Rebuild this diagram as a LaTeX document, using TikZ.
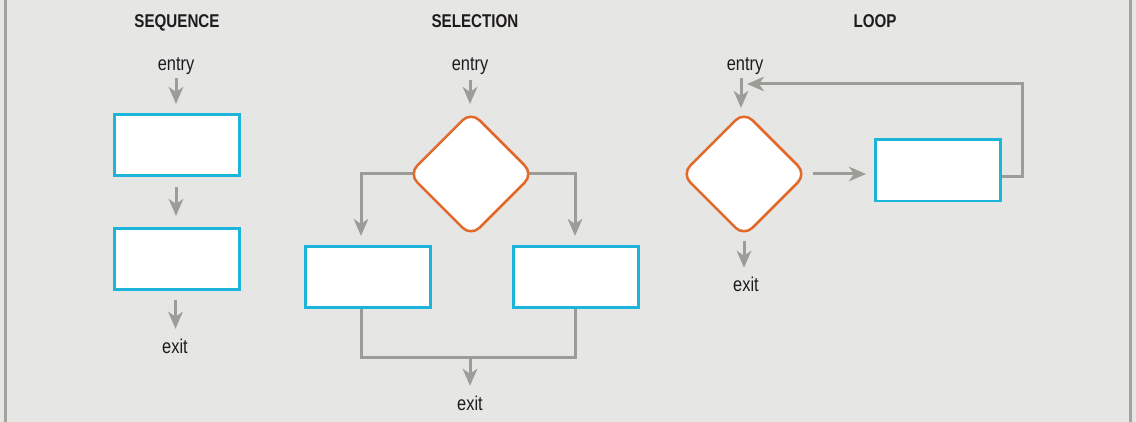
\documentclass[tikz,border=0pt]{standalone}
\usepackage{fontspec}
\setmainfont{Liberation Sans}[FakeStretch=0.82]
\usetikzlibrary{arrows.meta,shapes.geometric}
\pgfdeclarelayer{bg}
\pgfdeclarelayer{lines}
\pgfsetlayers{bg,lines,main}
\definecolor{bgc}{HTML}{E6E6E4}
\definecolor{boxc}{HTML}{1CB4D8}
\definecolor{diac}{HTML}{E2692A}
\definecolor{linec}{HTML}{9D9D97}
\definecolor{borderc}{HTML}{A3A39D}
\definecolor{textc}{HTML}{1E1B1C}
\tikzset{
  lbl/.style={font=\fontsize{20}{24}\selectfont, text=textc, inner sep=0pt, anchor=base},
  head/.style={font=\bfseries\fontsize{18.5}{22}\selectfont, text=textc, inner sep=0pt, anchor=base},
  stepbox/.style={rectangle, draw=boxc, fill=white, line width=2.8pt, minimum width=125.2pt, minimum height=61.2pt, inner sep=0pt},
  decision/.style={diamond, draw=diac, fill=white, line width=2.5pt, minimum width=125.5pt, minimum height=125.5pt, inner sep=0pt, rounded corners=12pt},
  conn/.style={draw=linec, line width=3pt},
  arr/.style={conn, -{Stealth[length=17pt, width=14.5pt, inset=5pt]}}
}
\begin{document}
\begin{tikzpicture}[x=1pt, y=-1pt]
\useasboundingbox (0,0) rectangle (1136,422);
\begin{pgfonlayer}{bg}
  \fill[bgc] (0,0) rectangle (1136,422);
  \draw[borderc, line width=3pt] (5,0) -- (5,422);
  \draw[borderc, line width=3pt] (1130.5,0) -- (1130.5,422);
\end{pgfonlayer}

% ---------- SEQUENCE ----------
\node[head] (h1) at (177,27.5) {SEQUENCE};
\node[lbl] (en1) at (176,71) {entry};
\node[stepbox] (b1) at (177,145) {};
\node[stepbox] (b2) at (177,259) {};
\node[lbl] (ex1) at (175,353) {exit};

% ---------- SELECTION ----------
\node[head] (h2) at (475,27.5) {SELECTION};
\node[lbl] (en2) at (470,71) {entry};
\node[decision] (d1) at (471,174) {};
\node[stepbox] (sl) at (368,277) {};
\node[stepbox] (sr) at (576,277) {};
\coordinate (j) at (470,357);
\node[lbl] (ex2) at (470,410) {exit};

% ---------- LOOP ----------
\node[head] (h3) at (875,27.5) {LOOP};
\node[lbl] (en3) at (745,71) {entry};
\node[decision] (d2) at (744,174) {};
\node[stepbox] (b3) at (938,170.5) {};
\coordinate (fb) at (1022,84);
\node[lbl] (ex3) at (746,291.5) {exit};

\begin{pgfonlayer}{lines}
  % sequence
  \draw[arr, shorten <=3pt, shorten >=9pt] (en1.south) -- (en1.south |- b1.north);
  \draw[arr, shorten <=10pt, shorten >=11pt] ([xshift=-1pt]b1.south) -- ([xshift=-1pt]b2.north);
  \draw[arr, shorten <=9pt, shorten >=9.5pt] ([xshift=-1.5pt]b2.south) -- ([xshift=-1.5pt]b2.south |- ex1.north);
  % selection
  \draw[arr, shorten <=5pt, shorten >=6pt] (en2.south) -- (en2.south |- d1.north);
  \draw[arr, shorten >=9pt] (d1.center) -| ([xshift=-7pt]sl.north);
  \draw[arr, shorten >=9pt] (d1.center) -| ([xshift=-1pt]sr.north);
  \draw[conn] ([xshift=-7pt]sl.south) |- (j) -| ([xshift=-1pt]sr.south);
  \draw[arr, shorten >=9.5pt] (j) -- (j |- ex2.north);
  % loop
  \draw[arr, shorten <=3pt, shorten >=2pt] ([xshift=-4pt]en3.south) -- ([xshift=-4pt]en3.south |- d2.north);
  \draw[arr, shorten <=5pt, shorten >=8pt] (d2.east) -- (d2.east -| b3.west);
  \draw[arr, shorten >=3pt] ([yshift=-6.5pt]b3.east) -| (fb) -- (fb -| d2.north);
  \draw[arr, shorten <=3pt, shorten >=9pt] (d2.south) -- (d2.south |- ex3.north);
\end{pgfonlayer}
\end{tikzpicture}
\end{document}
